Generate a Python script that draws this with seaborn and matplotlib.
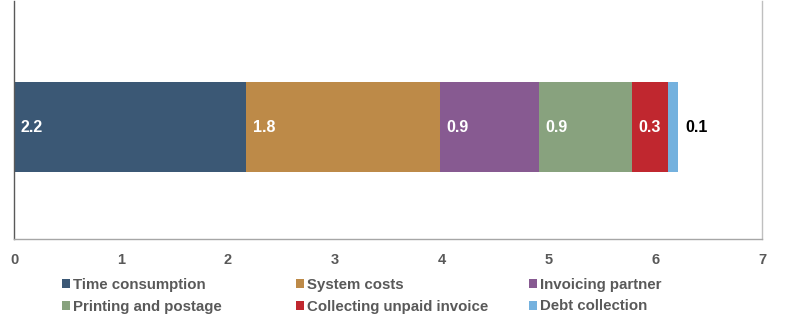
import matplotlib
matplotlib.use("Agg")
import matplotlib.pyplot as plt
import seaborn as sns
from matplotlib.patches import Patch

categories = ["Time consumption", "System costs", "Invoicing partner",
              "Printing and postage", "Collecting unpaid invoice", "Debt collection"]
values = [2.17, 1.81, 0.93, 0.87, 0.34, 0.09]
labels = ["2.2", "1.8", "0.9", "0.9", "0.3", "0.1"]
colors = ["#3B5875", "#BD8A48", "#875A91", "#88A27E", "#C0272F", "#74B1DE"]
xticks = [0, 1, 2, 3, 4, 5, 6, 7]

sns.set_theme(style="white")
plt.rcParams['font.family'] = ['Liberation Sans', 'DejaVu Sans']

fig = plt.figure(figsize=(7.97, 3.29), dpi=100)
ax = fig.add_axes([14.3/797, 1 - 238.7/329, 748/797, 238/329])

left = 0.0
for cat, v, lab, c in zip(categories, values, labels, colors):
    ax.barh(0, v, left=left, height=0.378, color=c, label=cat, linewidth=0)
    if v > 0.2:
        ax.text(left + 0.06, -0.005, lab, color="white", fontsize=11.5, fontweight="bold",
                va="center", ha="left")
    else:
        ax.text(left + v + 0.07, -0.005, lab, color="black", fontsize=11.5, fontweight="bold",
                va="center", ha="left")
    left += v

ax.set_xlim(0, 7)
ax.set_ylim(-0.471, 0.529)
ax.set_xticks(xticks)
ax.set_xticklabels([str(t) for t in xticks], fontsize=10.5, fontweight="bold", color="#595959")
ax.set_yticks([])
ax.tick_params(axis="x", length=0, pad=10)
ax.spines["top"].set_visible(False)
ax.spines["left"].set_color("#595959")
ax.spines["right"].set_color("#BFBFBF")
ax.spines["bottom"].set_color("#A6A6A6")
for s in ["left", "right", "bottom"]:
    ax.spines[s].set_linewidth(1)

# three legend columns, row-major order as in the reference
col_x = [62, 296, 529]
for ci in range(3):
    idx = [ci, ci + 3]
    handles = [Patch(facecolor=colors[i], edgecolor="none") for i in idx]
    leg = fig.legend(handles, [categories[i] for i in idx], loc="upper left",
                     bbox_to_anchor=(col_x[ci]/797, 1 - 278/329), frameon=False,
                     handlelength=0.53, handleheight=0.53, handletextpad=0.2,
                     labelspacing=0.5, borderpad=0, borderaxespad=0,
                     prop={"family": ["Liberation Sans", "DejaVu Sans"],
                           "weight": "bold", "size": 10.8})
    for t in leg.get_texts():
        t.set_color("#595959")

fig.savefig("out.png", dpi=100)
